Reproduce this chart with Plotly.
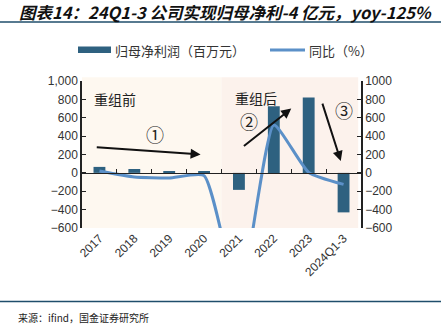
import plotly.graph_objects as go

categories = ["2017", "2018", "2019", "2020", "2021", "2022", "2023", "2024Q1-3"]
profit = [65, 42, 12, 12, -185, 725, 820, -430]
yoy = [20, -45, -55, -30, -1370, 520, 5, -125]
left_ticks = [1000, 800, 600, 400, 200, 0, -200, -400, -600]
right_ticks = [1000, 800, 600, 400, 200, 0, -200, -400, -600]
bar_name = "归母净利润（百万元）"
line_name = "同比（%）"

CJK = "Noto Sans CJK SC"
NUM = "Liberation Sans, Arial"
BAR_C = "#2E6180"
LINE_C = "#5B90C8"
ML, MT = 82, 81
PH = 147.3  # plot height px
PW = 279.0  # plot width px


def px(x):
    return (x - ML) / PW


def py(y):
    return 1 + (MT - y) / PH


fig = go.Figure()
fig.add_trace(go.Bar(x=categories, y=profit, name=bar_name,
                     marker=dict(color=BAR_C, line=dict(width=0)), yaxis="y"))
fig.add_trace(go.Scatter(x=categories, y=yoy, name=line_name, mode="lines",
                         line=dict(color=LINE_C, width=3, shape="spline", smoothing=0.5),
                         yaxis="y2", cliponaxis=True))

# background regions
fig.add_shape(type="rect", xref="x", yref="paper", x0=-0.5, x1=3.5, y0=0, y1=1.025,
              fillcolor="#FEF8F0", line=dict(width=0), layer="below")
fig.add_shape(type="rect", xref="x", yref="paper", x0=3.5, x1=7.42, y0=0, y1=1.025,
              fillcolor="#FCF2EC", line=dict(width=0), layer="below")

fig.update_layout(
    width=443, height=327,
    margin=dict(l=ML, r=82, t=MT, b=99),
    paper_bgcolor="white", plot_bgcolor="rgba(0,0,0,0)",
    bargap=0.66,
    showlegend=False,
    xaxis=dict(type="category", categoryarray=categories, range=[-0.5, 7.5],
               showline=False, ticks="", tickangle=-45,
               tickfont=dict(family=NUM, size=12, color="#333"), showgrid=False, zeroline=False),
    xaxis2=dict(type="category", categoryarray=categories, matches="x", overlaying="x",
                anchor="free", position=600/1600, showline=True, linecolor="#222", linewidth=1.2,
                ticks="inside", ticklen=4, tickcolor="#222", tickson="boundaries",
                showticklabels=False, showgrid=False, zeroline=False),
    yaxis=dict(range=[-600, 1000], tickvals=left_ticks, tickformat=",d", showgrid=False,
               showline=True, linecolor="#222", linewidth=1.5, ticks="inside", ticklen=4,
               tickcolor="#222", zeroline=False,
               tickfont=dict(family=NUM, size=12, color="#333")),
    yaxis2=dict(range=[-600, 1000], tickvals=right_ticks, ticksuffix="%", overlaying="y",
                side="right", showgrid=False, showline=True, linecolor="#222", linewidth=1.5,
                ticks="inside", ticklen=4, tickcolor="#222", zeroline=False,
                tickfont=dict(family=NUM, size=12, color="#333")),
)
# dummy trace to activate xaxis2
fig.add_trace(go.Scatter(x=categories, y=[None]*len(categories), xaxis="x2", yaxis="y",
                         showlegend=False, hoverinfo="skip"))

# manual legend
fig.add_shape(type="rect", xref="paper", yref="paper", x0=px(78), x1=px(111),
              y0=py(53), y1=py(46.5), fillcolor=BAR_C, line=dict(width=0))
fig.add_annotation(text=bar_name, xref="paper", yref="paper", x=px(113), y=py(50),
                   xanchor="left", yanchor="middle", showarrow=False,
                   font=dict(family=CJK, size=13, color="#333"))
fig.add_shape(type="line", xref="paper", yref="paper", x0=px(270), x1=px(305),
              y0=py(50), y1=py(50), line=dict(color=LINE_C, width=3))
fig.add_annotation(text=line_name, xref="paper", yref="paper", x=px(307), y=py(50),
                   xanchor="left", yanchor="middle", showarrow=False,
                   font=dict(family=CJK, size=13, color="#333"))

# title and source
fig.add_annotation(text="<b><i>图表14：24Q1-3 公司实现归母净利-4 亿元，yoy-125%</i></b>",
                   xref="paper", yref="paper", x=px(17), y=py(12),
                   yanchor="middle", xanchor="left",
                   showarrow=False, font=dict(family=CJK, size=16.5, color="#111"))
fig.add_shape(type="line", xref="paper", yref="paper", x0=px(0), x1=px(441),
              y0=py(22), y1=py(22), line=dict(color="#1F4E6B", width=1.5))
fig.add_shape(type="line", xref="paper", yref="paper", x0=px(0), x1=px(441),
              y0=py(302), y1=py(302), line=dict(color="#1F4E6B", width=1.5))
fig.add_annotation(text="来源：ifind，国金证券研究所", xref="paper", yref="paper",
                   x=px(16), y=py(318), xanchor="left", yanchor="middle", showarrow=False,
                   font=dict(family=CJK, size=10, color="#222"))

# region labels
fig.add_annotation(text="重组前", xref="x", yref="y", x=0.45, y=800, showarrow=False,
                   font=dict(family=CJK, size=14, color="#222"))
fig.add_annotation(text="重组后", xref="x", yref="y", x=4.5, y=810, showarrow=False,
                   font=dict(family=CJK, size=14, color="#222"))
fig.add_annotation(text="①", xref="x", yref="y", x=1.6, y=420, showarrow=False,
                   font=dict(family=CJK, size=18, color="#222"))
fig.add_annotation(text="②", xref="x", yref="y", x=4.3, y=560, showarrow=False,
                   font=dict(family=CJK, size=18, color="#222"))
fig.add_annotation(text="③", xref="x", yref="y", x=7.0, y=680, showarrow=False,
                   font=dict(family=CJK, size=18, color="#222"))

# arrows
def arrow(x0, y0, x1, y1):
    fig.add_annotation(x=x1, y=y1, ax=x0, ay=y0, xref="x", yref="y", axref="x", ayref="y",
                       text="", showarrow=True, arrowhead=2, arrowsize=1, arrowwidth=2,
                       arrowcolor="#111")

arrow(-0.12, 280, 2.9, 200)
arrow(4.1, 280, 5.5, 700)
arrow(6.38, 770, 6.92, 130)

fig.write_html("out.html")
